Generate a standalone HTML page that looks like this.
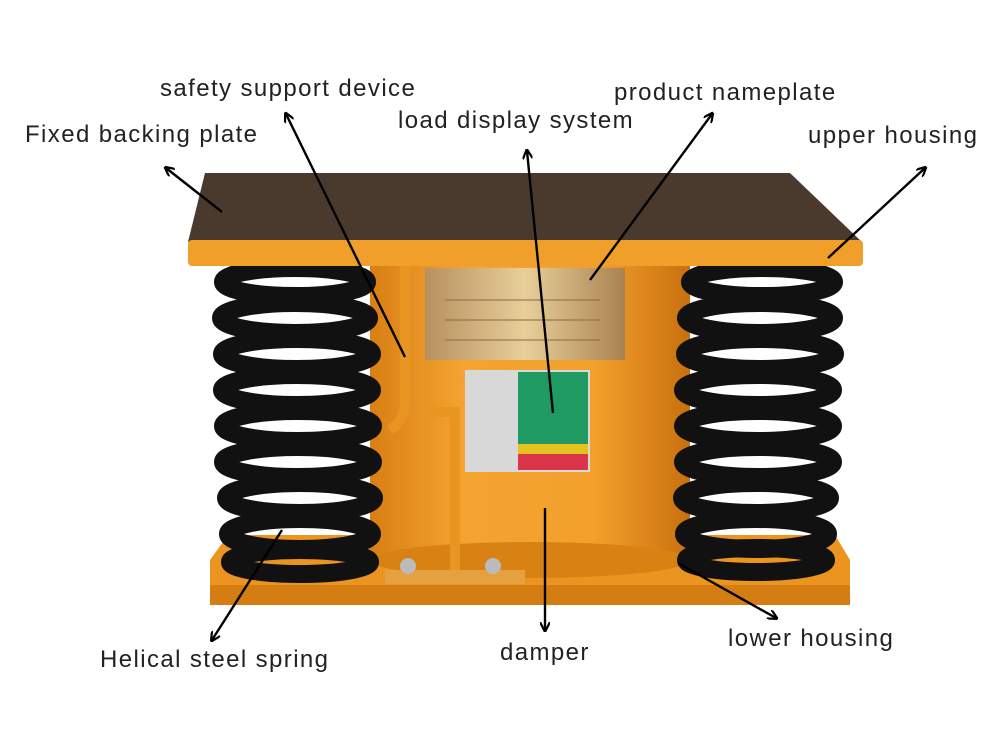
<!DOCTYPE html>
<html><head><meta charset="utf-8"><style>
html,body{margin:0;padding:0;background:#fff;}
svg{display:block;}
text{font-family:"Liberation Sans",sans-serif;font-size:24px;letter-spacing:1.4px;fill:#222;}
</style></head><body>
<svg width="1000" height="750" viewBox="0 0 1000 750" xmlns="http://www.w3.org/2000/svg">
<defs>
<marker id="ah" markerWidth="10" markerHeight="10" refX="8" refY="5" orient="auto" markerUnits="userSpaceOnUse">
<path d="M0,0 L10,5 L0,10" fill="none" stroke="#000" stroke-width="2.2"/>
</marker>
<linearGradient id="cyl" x1="0" x2="1">
<stop offset="0" stop-color="#d97f14"/><stop offset="0.3" stop-color="#f4a431"/><stop offset="0.7" stop-color="#f3a02c"/><stop offset="1" stop-color="#c8700e"/>
</linearGradient>
<linearGradient id="gold" x1="0" x2="1">
<stop offset="0" stop-color="#b89060"/><stop offset="0.5" stop-color="#e8cf9a"/><stop offset="1" stop-color="#a9824f"/>
</linearGradient>
</defs>
<polygon points="228,535 835,535 850,560 850,600 210,604 210,560" fill="#ec9420"/>
<rect x="210" y="585" width="640" height="20" fill="#d47d12"/>
<rect x="370" y="262" width="320" height="300" fill="url(#cyl)"/>
<ellipse cx="530" cy="560" rx="160" ry="18" fill="#d98214"/>
<rect x="425" y="268" width="200" height="92" fill="url(#gold)"/>
<g stroke="#8a6a40" stroke-width="1"><line x1="445" y1="300" x2="600" y2="300"/><line x1="445" y1="320" x2="600" y2="320"/><line x1="445" y1="340" x2="600" y2="340"/></g>
<rect x="465" y="370" width="125" height="102" fill="#d8d8d8"/>
<rect x="518" y="372" width="70" height="72" fill="#1f9a62"/>
<rect x="518" y="444" width="70" height="10" fill="#e3c21e"/>
<rect x="518" y="454" width="70" height="16" fill="#d9364a"/>
<path d="M405,265 L405,400 Q405,420 390,430 M420,412 L455,412 L455,570" fill="none" stroke="#e89522" stroke-width="10"/>
<rect x="385" y="570" width="140" height="14" fill="#e5a040"/>
<circle cx="408" cy="566" r="8" fill="#bbb"/><circle cx="493" cy="566" r="8" fill="#bbb"/>
<g fill="none" stroke="#111" stroke-width="18">
<ellipse cx="295" cy="282" rx="72" ry="14"/><ellipse cx="295" cy="318" rx="74" ry="15"/><ellipse cx="297" cy="354" rx="75" ry="15"/><ellipse cx="297" cy="390" rx="75" ry="15"/><ellipse cx="298" cy="426" rx="75" ry="15"/><ellipse cx="298" cy="462" rx="75" ry="15"/><ellipse cx="300" cy="498" rx="74" ry="15"/><ellipse cx="300" cy="534" rx="72" ry="15"/><ellipse cx="300" cy="562" rx="70" ry="12"/>
<ellipse cx="762" cy="282" rx="72" ry="14"/><ellipse cx="760" cy="318" rx="74" ry="15"/><ellipse cx="760" cy="354" rx="75" ry="15"/><ellipse cx="758" cy="390" rx="75" ry="15"/><ellipse cx="758" cy="426" rx="75" ry="15"/><ellipse cx="758" cy="462" rx="75" ry="15"/><ellipse cx="756" cy="498" rx="74" ry="15"/><ellipse cx="756" cy="534" rx="72" ry="15"/><ellipse cx="756" cy="560" rx="70" ry="12"/>
</g>
<polygon points="205,173 790,173 862,242 188,242" fill="#4a3a2e"/>
<rect x="188" y="240" width="675" height="26" rx="4" fill="#f0a02a"/>
<g stroke="#000" stroke-width="2.4" marker-end="url(#ah)">
<line x1="222" y1="212" x2="166" y2="168"/>
<line x1="405" y1="357" x2="286" y2="114"/>
<line x1="553" y1="413" x2="527" y2="151"/>
<line x1="590" y1="280" x2="712" y2="114"/>
<line x1="828" y1="258" x2="925" y2="168"/>
<line x1="282" y1="530" x2="212" y2="640"/>
<line x1="545" y1="508" x2="545" y2="630"/>
<line x1="678" y1="563" x2="776" y2="618"/>
</g>
<text x="25" y="142">Fixed backing plate</text>
<text x="160" y="96">safety support device</text>
<text x="398" y="128">load display system</text>
<text x="614" y="100">product nameplate</text>
<text x="808" y="143">upper housing</text>
<text x="100" y="667">Helical steel spring</text>
<text x="500" y="660">damper</text>
<text x="728" y="646">lower housing</text>
</svg>
</body></html>
